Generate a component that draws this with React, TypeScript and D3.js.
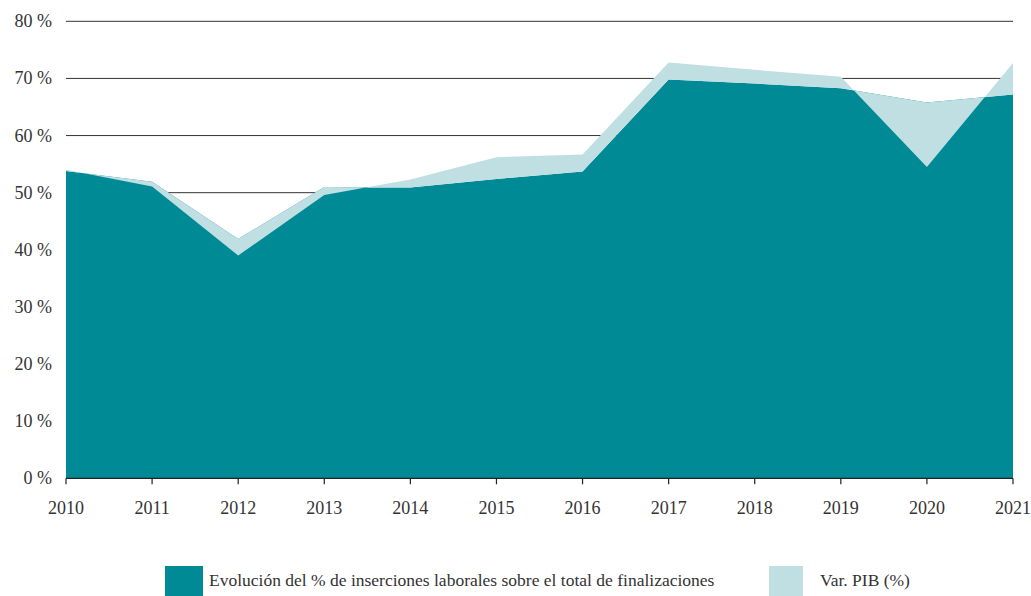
import React from "react";
import * as d3 from "d3";

const years = [2010, 2011, 2012, 2013, 2014, 2015, 2016, 2017, 2018, 2019, 2020, 2021];
const inserciones = [53.8, 51.9, 41.9, 51.0, 50.9, 52.4, 53.7, 69.8, 69.1, 68.3, 65.8, 67.2];
const varPib = [0.2, -0.8, -2.9, -1.4, 1.4, 3.8, 3.0, 3.0, 2.4, 2.0, -11.3, 5.5];
const yTicks = [0, 10, 20, 30, 40, 50, 60, 70, 80];
const seriesNames = ["Evolución del % de inserciones laborales sobre el total de finalizaciones", "Var. PIB (%)"];

const DARK = "#008A96";
const LIGHT = "#C0DFE3";
const FONT = "'Liberation Serif', 'DejaVu Serif', serif";

export default function App() {
  const W = 1031, H = 596;
  const x = d3.scaleLinear().domain([2010, 2021]).range([66, 1013]);
  const y = d3.scaleLinear().domain([0, 80]).range([478.3, 21.3]);

  const rows = years.map((yr, i) => ({ yr, ins: inserciones[i], pib: varPib[i] }));

  const darkArea = d3
    .area<(typeof rows)[number]>()
    .x((d) => x(d.yr))
    .y0(y(0))
    .y1((d) => y(d.ins));

  // stacked band: from the first series up by the (signed) GDP variation
  const lightArea = d3
    .area<(typeof rows)[number]>()
    .x((d) => x(d.yr))
    .y0((d) => y(d.ins))
    .y1((d) => y(d.ins + d.pib));

  return (
    <svg width={W} height={H} style={{ position: "absolute", left: 0, top: 0 }} fontFamily={FONT}>
      <rect width={W} height={H} fill="#fff" />
      {yTicks.filter((t) => t > 0).map((t) => (
        <line key={t} x1={x(2010)} x2={x(2021)} y1={y(t)} y2={y(t)} stroke="#333" strokeWidth={1} />
      ))}
      <path d={darkArea(rows) || ""} fill={DARK} />
      <path d={lightArea(rows) || ""} fill={LIGHT} fillRule="nonzero" />
      <line x1={x(2010)} x2={x(2021)} y1={y(0)} y2={y(0)} stroke="#222" strokeWidth={1.2} />
      {years.map((yr) => (
        <g key={yr}>
          <line x1={x(yr)} x2={x(yr)} y1={y(0)} y2={y(0) + 6} stroke="#222" strokeWidth={1.2} />
          <text x={x(yr)} y={514} textAnchor="middle" fontSize={18} fill="#333">
            {yr}
          </text>
        </g>
      ))}
      {yTicks.map((t) => (
        <text key={t} x={52} y={y(t) + 6} textAnchor="end" fontSize={18} fill="#333">
          {t} %
        </text>
      ))}
      <rect x={165} y={566} width={38} height={30} fill={DARK} />
      <text x={209} y={586} fontSize={17.5} fill="#333">
        {seriesNames[0]}
      </text>
      <rect x={769} y={566} width={34} height={30} fill={LIGHT} />
      <text x={820} y={586} fontSize={17.5} fill="#333">
        {seriesNames[1]}
      </text>
    </svg>
  );
}
